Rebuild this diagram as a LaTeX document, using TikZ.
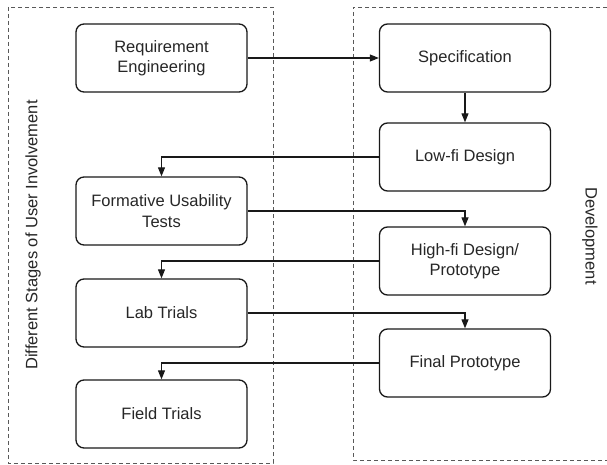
\documentclass[tikz,border=0pt]{standalone}
\usepackage{fontspec}
\setmainfont{Liberation Sans}
\usetikzlibrary{arrows.meta,positioning}
\begin{document}
\begin{tikzpicture}[x=1pt,y=-1pt,
  stage/.style={draw=black!90, line width=1.3pt, rounded corners=8pt,
    minimum width=171pt, minimum height=68pt, align=center,
    font=\fontsize{16.5}{20.5}\selectfont, text=black!85},
  group/.style={draw=black!65, line width=0.8pt, dash pattern=on 4pt off 3pt},
  flow/.style={draw=black!90, line width=1.1pt, -{Triangle[length=9pt,width=7pt]}},
  side/.style={font=\fontsize{16.5}{20.5}\selectfont, text=black!85}]
\useasboundingbox (0,0) rectangle (607,465);

% stakeholder and development lanes
\draw[group] (8,7) rectangle (273,463);
\draw[group] (607,7) -- (353,7) -- (353,460) -- (607,460);
\node[side, rotate=90] (usr) at (33,235) {Different Stages of User Involvement};
\node[side, rotate=-90] (dev) at (590,236) {Development};

% user involvement stages
\node[stage] (req) at (161.5,58) {Requirement\\Engineering};
\node[stage] (form) at (161.5,211) {Formative Usability\\Tests};
\node[stage] (lab) at (161.5,313) {Lab Trials};
\node[stage] (field) at (161.5,414) {Field Trials};

% development stages
\node[stage] (spec) at (465,58) {Specification};
\node[stage] (low) at (465,157) {Low-fi Design};
\node[stage] (high) at (465,261) {High-fi Design/\\Prototype};
\node[stage] (final) at (465,363) {Final Prototype};

% hand-offs between the lanes
\draw[flow] (req) -- (spec);
\draw[flow] (spec) -- (low);
\draw[flow] (low.west) -| (form.north);
\draw[flow] (form.east) -| (high.north);
\draw[flow] (high.west) -| (lab.north);
\draw[flow] (lab.east) -| (final.north);
\draw[flow] (final.west) -| (field.north);
\end{tikzpicture}
\end{document}
